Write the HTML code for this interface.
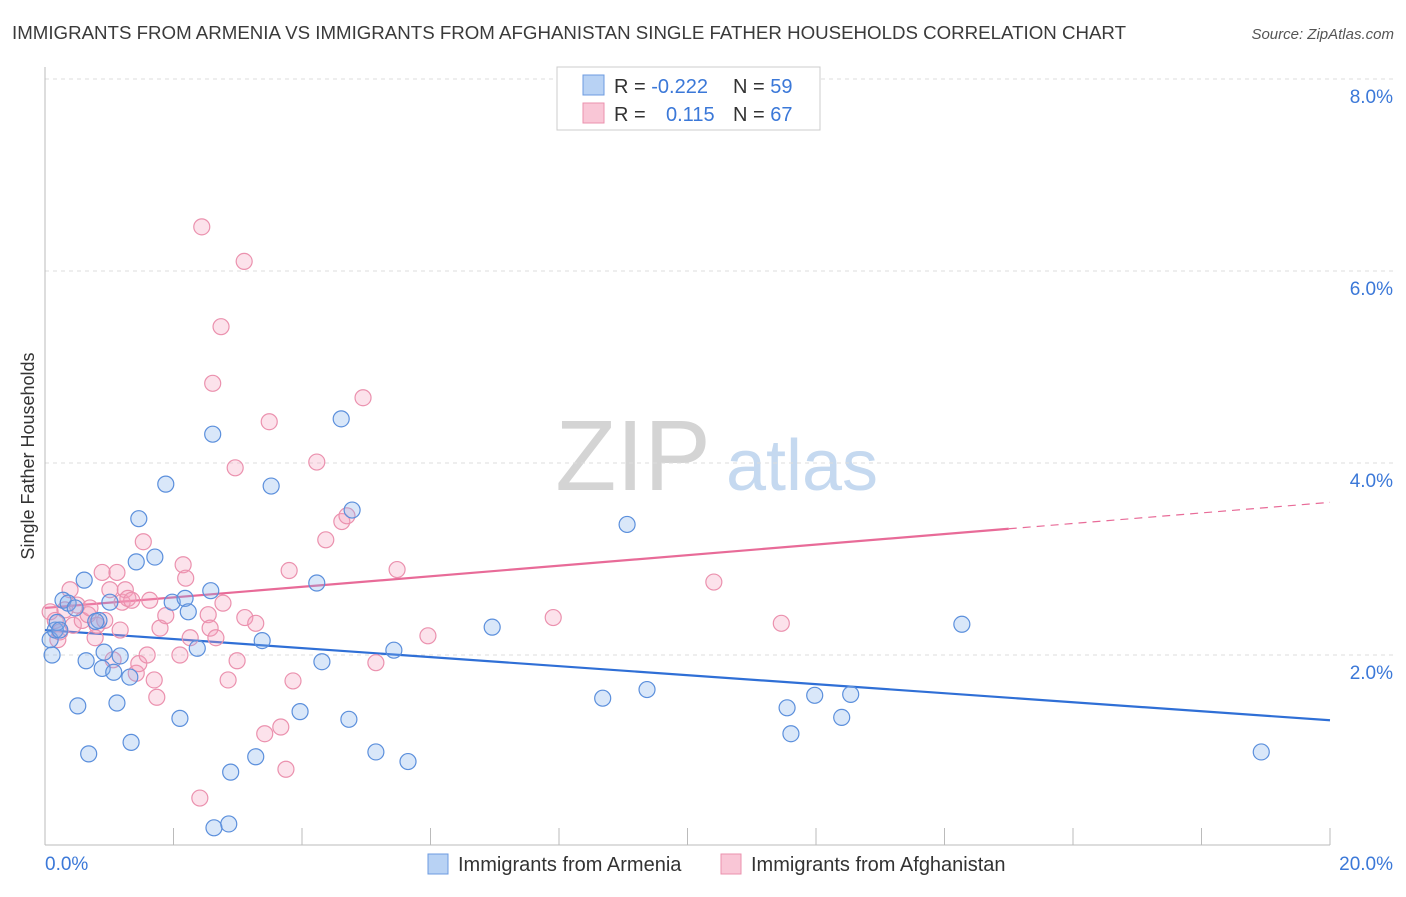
<!DOCTYPE html>
<html><head><meta charset="utf-8">
<style>
body{margin:0;background:#fff;font-family:"Liberation Sans",sans-serif;}
svg text{font-family:"Liberation Sans",sans-serif;}
</style></head>
<body>
<svg id="chart" width="1406" height="892" viewBox="0 0 1406 892" xmlns="http://www.w3.org/2000/svg">
<text x="12" y="39" font-size="18" fill="#3a3a3a" textLength="1114" lengthAdjust="spacingAndGlyphs">IMMIGRANTS FROM ARMENIA VS IMMIGRANTS FROM AFGHANISTAN SINGLE FATHER HOUSEHOLDS CORRELATION CHART</text>
<text x="1394" y="39" font-size="15" fill="#555" font-style="italic" text-anchor="end">Source: ZipAtlas.com</text>
<g>
<text x="633" y="490" font-size="100" font-family="Liberation Serif" fill="#d4d4d4" text-anchor="middle">ZIP</text>
<text x="802" y="490" font-size="72" fill="#c5d9f0" text-anchor="middle">atlas</text>
</g>
<g id="grid"></g>
<g id="axes"></g>
<text transform="translate(34,456) rotate(-90)" font-size="18" fill="#333" text-anchor="middle">Single Father Households</text>
<g id="trends"></g>
<g id="points"></g>
<g>
<rect x="557" y="67" width="263" height="63" fill="#fff" stroke="#ccc"/>
<rect x="583" y="75" width="21" height="20" fill="#b8d2f4" stroke="#6c9be0"/>
<rect x="583" y="103" width="21" height="20" fill="#f9c6d6" stroke="#eb91ae"/>
<text x="614" y="93" font-size="20" fill="#333">R = <tspan fill="#3b78d8">-0.222</tspan></text>
<text x="733" y="93" font-size="20" fill="#333">N = <tspan fill="#3b78d8">59</tspan></text>
<text x="614" y="121" font-size="20" fill="#333">R = <tspan fill="#3b78d8" x="666">0.115</tspan></text>
<text x="733" y="121" font-size="20" fill="#333">N = <tspan fill="#3b78d8">67</tspan></text>
</g>
<g>
<rect x="428" y="854" width="20" height="20" fill="#b8d2f4" stroke="#6c9be0"/>
<text x="458" y="871" font-size="20" fill="#333">Immigrants from Armenia</text>
<rect x="721" y="854" width="20" height="20" fill="#f9c6d6" stroke="#eb91ae"/>
<text x="751" y="871" font-size="20" fill="#333">Immigrants from Afghanistan</text>
</g>
</svg>
<script>
const yTicks=[2,4,6,8];
const yTickLabels=["2.0%","4.0%","6.0%","8.0%"];
const xTickLabels=["0.0%","20.0%"];
const armeniaX=[0.11,0.08,0.16,0.19,0.28,0.36,0.47,0.61,0.64,0.51,0.68,0.84,0.92,0.89,1.01,1.07,1.12,1.17,1.32,1.34,1.42,1.46,1.71,1.88,1.98,2.10,2.18,2.23,2.37,2.58,2.61,2.63,2.86,2.89,3.28,3.38,3.52,3.97,4.23,4.31,4.61,4.73,4.78,5.15,5.43,5.65,6.96,8.68,9.06,9.37,11.55,11.61,11.98,12.40,12.54,14.27,18.93,0.23,0.79];
const armeniaY=[2.00,2.16,2.26,2.34,2.57,2.54,2.49,2.78,1.94,1.47,0.97,2.36,2.03,1.86,2.55,1.82,1.50,1.99,1.77,1.09,2.97,3.42,3.02,3.78,2.55,1.34,2.59,2.45,2.07,2.67,4.30,0.20,0.24,0.78,0.94,2.15,3.76,1.41,2.75,1.93,4.46,1.33,3.51,0.99,2.05,0.89,2.29,1.55,3.36,1.64,1.45,1.18,1.58,1.35,1.59,2.32,0.99,2.26,2.35];
const afghanX=[0.08,0.16,0.20,0.23,0.31,0.39,0.44,0.50,0.58,0.67,0.70,0.78,0.81,0.89,0.93,1.01,1.06,1.12,1.17,1.20,1.25,1.29,1.35,1.42,1.46,1.53,1.59,1.63,1.70,1.74,1.79,1.88,2.10,2.15,2.19,2.26,2.44,2.54,2.57,2.61,2.66,2.74,2.77,2.85,2.96,2.99,3.10,3.11,3.28,3.42,3.49,3.67,3.75,3.80,3.86,2.41,4.23,4.37,4.62,4.70,4.95,5.15,5.48,5.96,7.91,10.41,11.46];
const afghanY=[2.45,2.36,2.16,2.24,2.47,2.68,2.31,2.52,2.36,2.42,2.49,2.18,2.31,2.86,2.36,2.68,1.95,2.86,2.26,2.55,2.68,2.59,2.57,1.81,1.91,3.18,2.00,2.57,1.74,1.56,2.28,2.41,2.00,2.94,2.80,2.18,6.46,2.42,2.28,4.83,2.18,5.42,2.54,1.74,3.95,1.94,6.10,2.39,2.33,1.18,4.43,1.25,0.81,2.88,1.73,0.51,4.01,3.20,3.39,3.45,4.68,1.92,2.89,2.20,2.39,2.76,2.33];
const armeniaTrend=[2.26,1.32];
const afghanTrend=[2.49,3.59];
const afghanSolidEnd=15;

const NS="http://www.w3.org/2000/svg";
const X0=45,X1=1330,Y0=847,PPY=96;
function sx(v){return X0+(X1-X0)*v/20;}
function sy(v){return Y0-v*PPY;}
function mk(tag,attrs,parent){const e=document.createElementNS(NS,tag);for(const k in attrs)e.setAttribute(k,attrs[k]);parent.appendChild(e);return e;}
const grid=document.getElementById('grid'),axes=document.getElementById('axes');
yTicks.forEach((t,i)=>{
 const l=mk('line',{x1:X0,x2:1393,y1:sy(t),y2:sy(t),stroke:'#ddd','stroke-dasharray':'4,4'},grid);
 
 
 const tx=mk('text',{x:1393,y:sy(t)+24,'font-size':19,fill:'#3b78d8','text-anchor':'end'},grid);
 tx.textContent=yTickLabels[i];
 
 
});
const al=mk('line',{x1:X0,x2:X0,y1:67,y2:845,stroke:'#bbb'},axes);


const bl=mk('line',{x1:X0,x2:X1,y1:845,y2:845,stroke:'#bbb'},axes);


for(let i=0;i<=10;i++){
 const t=mk('line',{x1:sx(i*2),x2:sx(i*2),y1:828,y2:845,stroke:'#bbb'},axes);
 
 
}
const xl0=mk('text',{x:45,y:870,'font-size':19,fill:'#3b78d8'},axes);
xl0.textContent=xTickLabels[0];


const xl1=mk('text',{x:1393,y:870,'font-size':19,fill:'#3b78d8','text-anchor':'end'},axes);
xl1.textContent=xTickLabels[1];



const pts=document.getElementById('points');
function drawPts(xs,ys,fill,stroke,name){
 xs.forEach((x,i)=>{
  const c=mk('circle',{cx:sx(x),cy:sy(ys[i]),r:8,fill:fill,stroke:stroke,'stroke-width':1.2},pts);
  
  
 });
}
drawPts(afghanX,afghanY,'rgba(244,160,190,0.3)','#eb91ae','point-afghanistan');
drawPts(armeniaX,armeniaY,'rgba(130,175,235,0.3)','#5b8fdc','point-armenia');

const tr=document.getElementById('trends');
const t1=mk('line',{x1:sx(0),y1:sy(armeniaTrend[0]),x2:sx(20),y2:sy(armeniaTrend[1]),stroke:'#2f6fd6','stroke-width':2.2},tr);


const midY=afghanTrend[0]+(afghanTrend[1]-afghanTrend[0])*afghanSolidEnd/20;
const t2=mk('line',{x1:sx(0),y1:sy(afghanTrend[0]),x2:sx(afghanSolidEnd),y2:sy(midY),stroke:'#e86b98','stroke-width':2.2},tr);


const t3=mk('line',{x1:sx(afghanSolidEnd),y1:sy(midY),x2:sx(20),y2:sy(afghanTrend[1]),stroke:'#e86b98','stroke-width':1.2,'stroke-dasharray':'8,6'},tr);


</script>
</body></html>
